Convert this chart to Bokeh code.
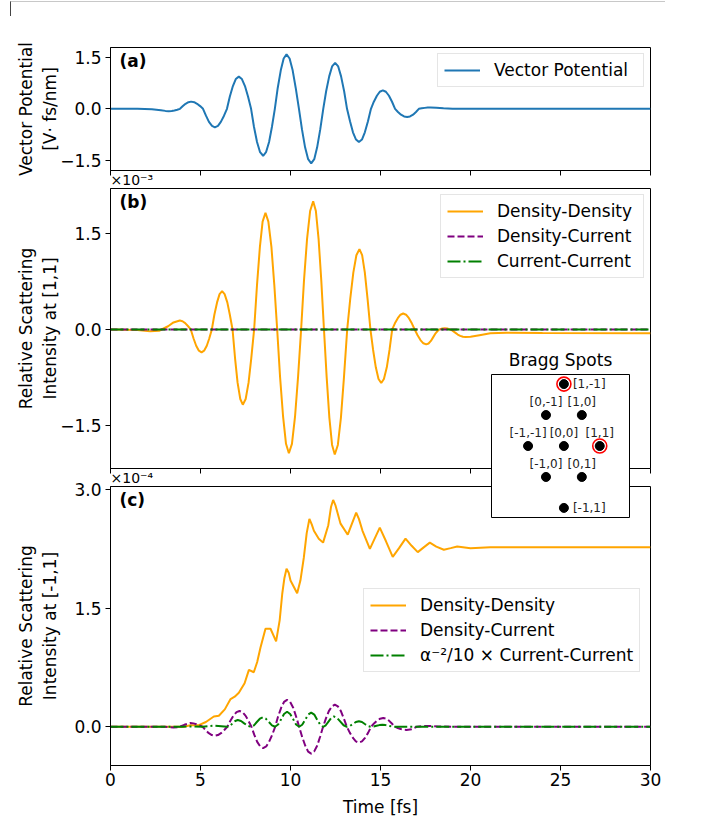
from bokeh.plotting import figure
from bokeh.models import GridBox, Column, Div, Label, FixedTicker
from bokeh.embed import file_html
from bokeh.resources import INLINE
from bokeh.core.properties import value

# ---------------- data ----------------
time_ticks = [0, 5, 10, 15, 20, 25, 30]

# (a) vector potential [V fs/nm]
a_t = [0, 1.5, 2.3, 2.8, 3.05, 3.24,
       3.40, 3.55, 3.71, 3.86, 4.02, 4.17, 4.33, 4.48,
       4.65, 4.81, 4.98, 5.14, 5.31, 5.47, 5.64, 5.8,
       5.97, 6.13, 6.30, 6.47, 6.63, 6.80, 6.96, 7.13,
       7.30, 7.47, 7.64, 7.81, 7.97, 8.14, 8.31, 8.48,
       8.64, 8.81, 8.97, 9.13, 9.29, 9.46, 9.62, 9.78,
       9.95, 10.12, 10.29, 10.47, 10.64, 10.81, 10.98, 11.15,
       11.32, 11.48, 11.65, 11.82, 11.98, 12.15, 12.31, 12.48,
       12.65, 12.81, 12.98, 13.14, 13.31, 13.47, 13.64, 13.8,
       13.97, 14.13, 14.30, 14.47, 14.63, 14.80, 14.96, 15.13,
       15.30, 15.47, 15.64, 15.81, 15.97, 16.14, 16.31, 16.48,
       16.64, 16.81, 16.97, 17.13, 17.29, 17.46, 17.62, 17.78,
       18.1, 18.5, 19.0, 20.0, 30.0]
a_vp = [0, 0, -0.01, -0.04, -0.06, -0.07,
        -0.065, -0.05, -0.027, 0.0, 0.08, 0.148, 0.194, 0.21,
        0.194, 0.148, 0.08, 0.0, -0.207, -0.382, -0.499, -0.54,
        -0.499, -0.382, -0.207, 0.0, 0.36, 0.665, 0.869, 0.94,
        0.869, 0.665, 0.36, 0.0, -0.524, -0.969, -1.266, -1.37,
        -1.266, -0.969, -0.524, 0.0, 0.609, 1.124, 1.469, 1.59,
        1.469, 1.124, 0.609, 0.0, -0.609, -1.124, -1.469, -1.59,
        -1.469, -1.124, -0.609, 0.0, 0.513, 0.947, 1.238, 1.34,
        1.238, 0.947, 0.513, 0.0, -0.371, -0.686, -0.896, -0.97,
        -0.896, -0.686, -0.371, 0.0, 0.207, 0.382, 0.499, 0.54,
        0.499, 0.382, 0.207, 0.0, -0.092, -0.17, -0.222, -0.24,
        -0.222, -0.17, -0.092, 0.0, 0.015, 0.028, 0.037, 0.04,
        0.035, 0.015, 0.0, 0.0, 0.0]
a_yticks = [-1.5, 0.0, 1.5]
a_ytick_labels = ["\u22121.5", "0.0", "1.5"]

# (b) relative scattering intensity at [1,1]  (x 1e-3)
b_t = [0, 1.5, 2.2, 2.7, 3.2, 3.5, 3.85,
       4.00, 4.15, 4.30, 4.46, 4.61, 4.76, 4.91, 5.06,
       5.20, 5.35, 5.49, 5.63, 5.77, 5.92, 6.06, 6.2,
       6.34, 6.49, 6.63, 6.78, 6.92, 7.06, 7.21, 7.35,
       7.51, 7.67, 7.82, 7.98, 8.14, 8.30, 8.45, 8.61,
       8.77, 8.94, 9.10, 9.26, 9.42, 9.59, 9.75, 9.91,
       10.08, 10.25, 10.42, 10.59, 10.75, 10.92, 11.09, 11.26,
       11.41, 11.56, 11.71, 11.86, 12.01, 12.16, 12.31, 12.46,
       12.63, 12.80, 12.97, 13.15, 13.32, 13.49, 13.66, 13.83,
       13.98, 14.13, 14.28, 14.44, 14.59, 14.74, 14.89, 15.04,
       15.19, 15.35, 15.50, 15.65, 15.80, 15.96, 16.11, 16.26,
       16.42, 16.58, 16.74, 16.90, 17.06, 17.22, 17.38, 17.54,
       17.67, 17.80, 17.93, 18.06, 18.18, 18.31, 18.44, 18.57,
       18.71, 18.86, 19.0, 19.15, 19.29, 19.43, 19.58, 19.72,
       20.0, 20.5, 21.1, 22.0, 24.0, 30.0]
b_dd = [0, -0.01, -0.03, -0.02, 0.05, 0.11, 0.14,
        0.129, 0.099, 0.054, 0.0, -0.138, -0.255, -0.333, -0.36,
        -0.333, -0.255, -0.138, 0.0, 0.23, 0.424, 0.554, 0.60,
        0.554, 0.424, 0.23, 0.0, -0.452, -0.834, -1.09, -1.18,
        -1.09, -0.834, -0.452, 0.0, 0.70, 1.294, 1.691, 1.83,
        1.691, 1.294, 0.70, 0.0, -0.743, -1.372, -1.793, -1.94,
        -1.793, -1.372, -0.743, 0.0, 0.77, 1.421, 1.857, 2.01,
        1.857, 1.421, 0.77, 0.0, -0.751, -1.386, -1.811, -1.96,
        -1.811, -1.386, -0.751, 0.0, 0.483, 0.891, 1.164, 1.26,
        1.164, 0.891, 0.483, 0.0, -0.322, -0.594, -0.776, -0.84,
        -0.776, -0.594, -0.322, 0.0, 0.096, 0.177, 0.231, 0.25,
        0.231, 0.177, 0.096, 0.0, -0.09, -0.166, -0.217, -0.235,
        -0.22, -0.18, -0.12, -0.06, -0.02, 0.005, 0.017, 0.02,
        0.015, 0.0, -0.02, -0.05, -0.08, -0.10, -0.115, -0.12,
        -0.115, -0.09, -0.06, -0.05, -0.055, -0.06]
b_t_flat = [0, 30]
b_dc = [0.0, 0.0]
b_cc = [0.0, 0.0]
b_yticks = [-1.5, 0.0, 1.5]
b_ytick_labels = ["\u22121.5", "0.0", "1.5"]

# (c) relative scattering intensity at [-1,1]  (x 1e-4)
c_t_dd = [0, 3.0, 4.07, 4.44, 4.91, 5.3, 5.74, 6.02, 6.35, 6.67, 6.9, 7.13, 7.45, 7.69, 7.96,
          8.15, 8.33, 8.61, 8.89, 9.2, 9.4, 9.54, 9.66, 9.78, 9.9, 10.0, 10.37, 10.55, 10.74,
          10.9, 11.05, 11.18, 11.3, 11.57, 11.81, 12.1, 12.25, 12.37, 12.5, 12.78, 13.18, 13.5,
          13.65, 13.8, 14.0, 14.41, 14.96, 15.3, 15.68, 16.03, 16.39, 16.73, 17.07, 17.4, 17.74,
          18.1, 18.52, 18.9, 19.26, 20.0, 21.1, 25.0, 30.0]
c_dd = [0, 0, 0.0, 0.02, 0.02, 0.06, 0.13, 0.14, 0.22, 0.35, 0.38, 0.43, 0.55, 0.72, 0.69,
        0.82, 1.00, 1.24, 1.24, 1.08, 1.35, 1.68, 1.88, 2.00, 1.95, 1.85, 1.69, 1.85, 2.14,
        2.45, 2.63, 2.56, 2.48, 2.38, 2.33, 2.55, 2.78, 2.87, 2.80, 2.57, 2.43, 2.62,
        2.71, 2.63, 2.48, 2.25, 2.52, 2.35, 2.15, 2.26, 2.38, 2.29, 2.21, 2.27, 2.33,
        2.28, 2.24, 2.26, 2.28, 2.26, 2.27, 2.27, 2.27]
c_t_dc = [0, 3.0, 3.5, 3.8, 4.1, 4.44,
          4.61, 4.78, 4.95, 5.12, 5.29, 5.46, 5.63, 5.8,
          5.97, 6.14, 6.31, 6.49, 6.66, 6.83, 7.00, 7.17,
          7.33, 7.50, 7.66, 7.83, 7.99, 8.15, 8.32, 8.48,
          8.65, 8.81, 8.98, 9.15, 9.31, 9.48, 9.64, 9.81,
          9.98, 10.15, 10.31, 10.48, 10.65, 10.82, 10.98, 11.15,
          11.31, 11.48, 11.64, 11.81, 11.97, 12.13, 12.30, 12.46,
          12.63, 12.80, 12.96, 13.13, 13.30, 13.47, 13.63, 13.8,
          13.97, 14.14, 14.31, 14.48, 14.64, 14.81, 14.98, 15.15,
          15.31, 15.47, 15.63, 15.80, 15.96, 16.12, 16.28, 16.44,
          16.73, 17.02, 17.3, 17.6, 18.2, 19.0, 30.0]
c_dc = [0, 0, -0.008, -0.005, 0.025, 0.047,
        0.043, 0.033, 0.018, 0.0, -0.044, -0.081, -0.105, -0.114,
        -0.105, -0.081, -0.044, 0.0, 0.077, 0.141, 0.185, 0.20,
        0.185, 0.141, 0.077, 0.0, -0.103, -0.191, -0.249, -0.27,
        -0.249, -0.191, -0.103, 0.0, 0.13, 0.24, 0.314, 0.34,
        0.314, 0.24, 0.13, 0.0, -0.13, -0.24, -0.314, -0.34,
        -0.314, -0.24, -0.13, 0.0, 0.107, 0.198, 0.259, 0.28,
        0.259, 0.198, 0.107, 0.0, -0.077, -0.141, -0.185, -0.20,
        -0.185, -0.141, -0.077, 0.0, 0.042, 0.078, 0.102, 0.11,
        0.102, 0.078, 0.042, 0.0, -0.015, -0.028, -0.037, -0.04,
        -0.03, 0.0, 0.008, 0.01, 0.005, 0.0, 0.0]
c_t_cc = [0, 4.0, 4.44, 5.12, 5.45, 5.8, 6.15, 6.49,
          6.64, 6.78, 6.93, 7.07, 7.25, 7.43, 7.62, 7.8,
          7.97, 8.13, 8.30, 8.46, 8.63, 8.80, 8.97, 9.14,
          9.31, 9.48, 9.64, 9.81, 9.98, 10.15, 10.31, 10.48,
          10.65, 10.82, 10.98, 11.15, 11.32, 11.48, 11.65, 11.81,
          11.96, 12.11, 12.26, 12.41, 12.59, 12.77, 12.95, 13.13,
          13.30, 13.47, 13.63, 13.8, 13.97, 14.13, 14.30, 14.46,
          14.62, 14.78, 14.94, 15.1, 15.28, 15.45, 15.63, 15.8,
          16.5, 30.0]
c_cc = [0, 0, 0.005, 0.0, 0.008, 0.015, 0.008, 0.0,
        0.012, 0.043, 0.073, 0.085, 0.073, 0.043, 0.012, 0.0,
        0.018, 0.06, 0.102, 0.12, 0.102, 0.06, 0.018, 0.0,
        0.028, 0.095, 0.162, 0.19, 0.162, 0.095, 0.028, 0.0,
        0.026, 0.09, 0.154, 0.18, 0.154, 0.09, 0.026, 0.0,
        0.019, 0.065, 0.111, 0.13, 0.111, 0.065, 0.019, 0.0,
        0.01, 0.035, 0.06, 0.07, 0.06, 0.035, 0.01, 0.0,
        0.004, 0.013, 0.021, 0.025, 0.021, 0.013, 0.004, 0.0,
        0.0, 0.0]
c_yticks = [0.0, 1.5, 3.0]
c_ytick_labels = ["0.0", "1.5", "3.0"]

# Bragg spots inset
spot_names = ["[1,-1]", "[0,-1]", "[1,0]", "[-1,-1]", "[0,0]", "[1,1]", "[-1,0]", "[0,1]", "[-1,1]"]
spot_kx = [0.0, -0.5, 0.5, -1.0, 0.0, 1.0, -0.5, 0.5, 0.0]
spot_ky = [1.732, 0.866, 0.866, 0.0, 0.0, 0.0, -0.866, -0.866, -1.732]
spots_label_right = ["[1,-1]", "[-1,1]"]
spots_highlighted = ["[1,-1]", "[1,1]"]

# ---------------- styling ----------------
FONT = "DejaVu Sans"
FS = "17px"
W = 654


def make_panel(height, top, bottom, y_range, yticks, ylabels, ylabel, standoff, show_x):
    p = figure(width=W, height=height, x_range=(0, 30), y_range=y_range,
               toolbar_location=None, output_backend="svg",
               min_border_left=102, min_border_right=12, min_border_top=top,
               min_border_bottom=bottom,
               border_fill_color=None, background_fill_color="white",
               outline_line_color="black", outline_line_width=1)
    p.xgrid.visible = False
    p.ygrid.visible = False
    p.xaxis.ticker = FixedTicker(ticks=time_ticks)
    p.yaxis.ticker = FixedTicker(ticks=yticks)
    p.yaxis.major_label_overrides = dict(zip(yticks, ylabels))
    for ax in p.axis:
        ax.major_tick_in = 0
        ax.major_tick_out = 5
        ax.minor_tick_in = 0
        ax.minor_tick_out = 0
        ax.major_tick_line_color = "black"
        ax.axis_line_color = "black"
        ax.major_label_text_font = FONT
        ax.major_label_text_font_size = FS
        ax.major_label_text_color = "black"
        ax.axis_label_text_font = FONT
        ax.axis_label_text_font_size = FS
        ax.axis_label_text_font_style = "normal"
        ax.axis_label_text_color = "black"
    p.yaxis.axis_label = ylabel
    p.yaxis.axis_label_standoff = standoff
    p.yaxis.major_label_standoff = 4
    if show_x:
        p.xaxis.axis_label = "Time [fs]"
        p.xaxis.axis_label_standoff = 8
        p.xaxis.major_label_standoff = 2
    else:
        p.xaxis.major_label_overrides = {t: "" for t in time_ticks}
    return p


def style_legend(p, loc, label_w):
    lg = p.legend
    lg.location = loc
    lg.label_text_font = FONT
    lg.label_text_font_size = FS
    lg.label_text_color = "black"
    lg.glyph_width = 36
    lg.glyph_height = 20
    lg.label_height = 20
    lg.label_width = label_w
    lg.label_standoff = 14
    lg.spacing = 5
    lg.padding = 6
    lg.margin = 6
    lg.border_line_color = "#cccccc"
    lg.border_line_width = 1
    lg.background_fill_alpha = 0.8


def panel_letter(p, txt, ytop):
    p.add_layout(Label(x=0, y=ytop, x_offset=9, y_offset=-3, text=txt, text_font=FONT,
                       text_font_size=FS, text_font_style="bold", text_color="black",
                       text_baseline="top", text_align="left"))


def exponent_title(p, txt):
    p.title.text = txt
    p.title.align = "left"
    p.title.text_font = FONT
    p.title.text_font_size = "14px"
    p.title.text_font_style = "normal"
    p.title.text_color = "black"
    p.title.standoff = 2


# (a)
a_yr = (-1.80, 1.79)
pa = make_panel(202, 39, 40, a_yr, a_yticks, a_ytick_labels,
                "Vector Potential\n[V\u00b7 fs/nm]", -3, False)
pa.line(a_t, a_vp, color="#1f77b4", line_width=2, legend_label="Vector Potential")
style_legend(pa, "top_right", 143)
panel_letter(pa, "(a)", a_yr[1])

# (b)
b_yr = (-2.18, 2.21)
pb = make_panel(360, 40, 40, b_yr, b_yticks, b_ytick_labels,
                "Relative Scattering\nIntensity at [1,1]", -3, False)
pb.line(b_t, b_dd, color="orange", line_width=2, legend_label="Density-Density")
pb.line(b_t_flat, b_dc, color="purple", line_width=2, line_dash="7 3", legend_label="Density-Current")
pb.line(b_t_flat, b_cc, color="green", line_width=2, line_dash="13 3 2 3", legend_label="Current-Current")
style_legend(pb, "top_right", 140)
panel_letter(pb, "(b)", b_yr[1])
exponent_title(pb, "\u00d710\u207b\u00b3")

# (c)
c_yr = (-0.49, 3.04)
pc = make_panel(373, 40, 54, c_yr, c_yticks, c_ytick_labels,
                "Relative Scattering\nIntensity at [-1,1]", 11, True)
pc.line(c_t_dd, c_dd, color="orange", line_width=2, legend_label="Density-Density")
pc.line(c_t_dc, c_dc, color="purple", line_width=2, line_dash="7 3", legend_label="Density-Current")
pc.line(c_t_cc, c_cc, color="green", line_width=2, line_dash="13 3 2 3",
        legend_label="\u03b1\u207b\u00b2/10 \u00d7 Current-Current")
style_legend(pc, (253, 93), 20)
panel_letter(pc, "(c)", c_yr[1])
exponent_title(pc, "\u00d710\u207b\u2074")

# inset: Bragg spots
ins = figure(width=144, height=178, x_range=(-2.02, 1.83), y_range=(-2.0, 2.0),
             x_axis_type=None, y_axis_type=None, toolbar_location=None, output_backend="svg",
             min_border_left=3, min_border_right=3, min_border_bottom=3, min_border_top=30,
             border_fill_color=None, background_fill_color="white",
             outline_line_color="black", outline_line_width=1, title="Bragg Spots")
ins.title.align = "center"
ins.title.text_font = FONT
ins.title.text_font_size = FS
ins.title.text_font_style = "normal"
ins.title.text_color = "black"
ins.title.standoff = 10

ins.scatter(spot_kx, spot_ky, size=9, color="black")
hi = [spot_names.index(n) for n in spots_highlighted]
ins.scatter([spot_kx[i] for i in hi], [spot_ky[i] for i in hi], size=14, fill_color=None,
            line_color="red", line_width=1.6)
above = [i for i, n in enumerate(spot_names) if n not in spots_label_right]
right = [i for i, n in enumerate(spot_names) if n in spots_label_right]
ins.text([spot_kx[i] for i in above], [spot_ky[i] for i in above], text=[spot_names[i] for i in above],
         text_align="center", text_baseline="middle", y_offset=-13, text_font=value(FONT),
         text_font_size="12px", text_color="#222222")
ins.text([spot_kx[i] for i in right], [spot_ky[i] for i in right], text=[spot_names[i] for i in right],
         text_align="left", text_baseline="middle", x_offset=9, text_font=value(FONT),
         text_font_size="12px", text_color="#222222")

# thin frame fragment at the very top-left of the reference image
edge = Div(text="", width=655, height=15, margin=(1, 0, 0, 10),
           styles={"border-top": "1px solid #c8c8c8", "border-left": "1px solid #444444",
                   "box-sizing": "border-box"})

# each figure wrapped in its own column so that frames are not aligned to each other;
# all wrappers share one grid cell and are offset with margins (overlapping, transparent borders)
wa = Column(children=[pa], margin=(8, 0, 0, 8))
wb = Column(children=[pb], margin=(148, 0, 0, 8))
wc = Column(children=[pc], margin=(446, 0, 0, 8))
wi = Column(children=[ins], margin=(342, 0, 0, 488))
layout = GridBox(children=[(edge, 0, 0), (wa, 0, 0), (wb, 0, 0), (wc, 0, 0), (wi, 0, 0)], spacing=0)

open("out.html", "w").write(file_html(layout, INLINE))
